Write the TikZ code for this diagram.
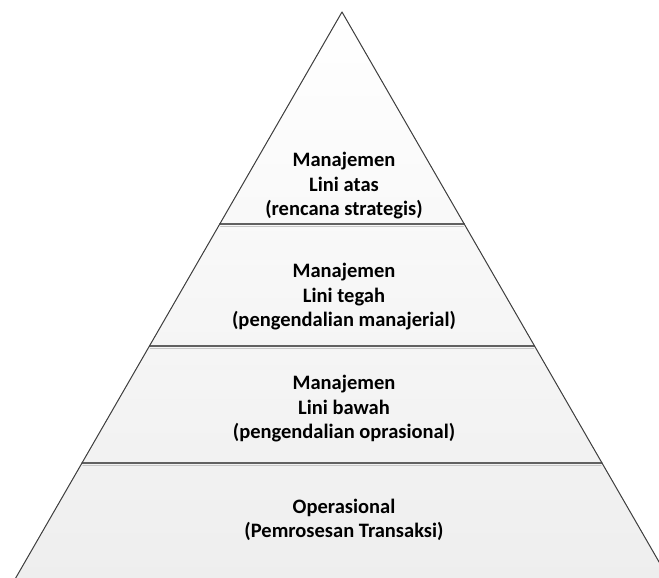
\documentclass[tikz,border=0pt]{standalone}
\usepackage{fontspec}
\setmainfont{Carlito}
\usepackage{tikz}
\usetikzlibrary{positioning,calc}

\begin{document}
\begin{tikzpicture}[
		x=1pt,y=-1pt,
		line cap=round,line join=round,
		font=\bfseries\fontsize{20.5}{24.5}\selectfont,
		edge/.style={draw=black!75, line width=1pt},
		divider/.style={draw=black!62, line width=1.1pt},
		shadowline/.style={draw=black!22, line width=1pt},
		label/.style={align=center, text=black}
		]
		%----- parameters
		\def\slope{0.5765}   % half width per unit height
		\def\depth{600}      % base lies below the picture
		
		\useasboundingbox (0,0) rectangle (659,578);
		\clip (0,0) rectangle (659,578);
		
		%----- pyramid outline
		\coordinate (apex) at (342,12);
		\coordinate (bl) at ($(apex)+(-\slope*\depth,\depth)$);
		\coordinate (br) at ($(apex)+(\slope*\depth,\depth)$);
		\fill[top color=white, bottom color=black!7] (apex) -- (br) -- (bl) -- cycle;
		
		%----- level dividers (y of each line)
		\foreach \yy in {224,346,463}{
			\pgfmathsetmacro{\hw}{\slope*(\yy-12)}
			\draw[shadowline] ($(apex)+(-\hw+0.9,\yy-12+2)$) -- ($(apex)+(\hw-0.9,\yy-12+2)$);
			\draw[divider] ($(apex)+(-\hw,\yy-12)$) -- ($(apex)+(\hw,\yy-12)$);
		}
		
		\draw[edge] (bl) -- (apex) -- (br);
		
		%----- level texts
		\node[label] (top) at (344,186) {Manajemen\\Lini atas\\(rencana strategis)};
		\node[label] (mid) at (344,297) {Manajemen\\Lini tegah\\(pengendalian manajerial)};
		\node[label] (low) at (344,409) {Manajemen\\Lini bawah\\(pengendalian oprasional)};
		\node[label] (ops) at (344,520) {Operasional\\(Pemrosesan Transaksi)};
		
\end{tikzpicture}
\end{document}
